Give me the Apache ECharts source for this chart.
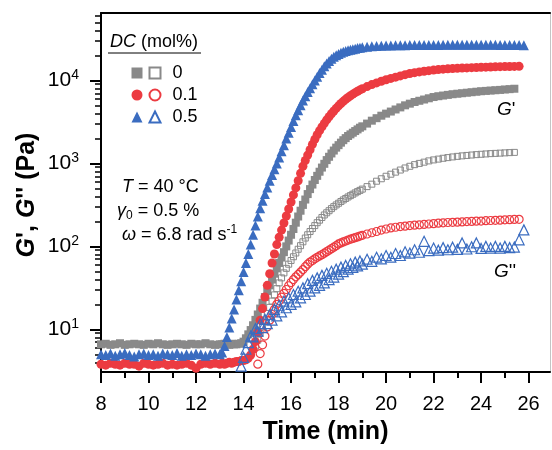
<!DOCTYPE html>
<html><head><meta charset="utf-8">
<script src="https://cdn.jsdelivr.net/npm/echarts@6/dist/echarts.min.js"></script>
<style>html,body{margin:0;padding:0;background:#fff}#c{width:552px;height:450px}</style>
</head><body><div id="c"></div>
<script>
// ---------------- data ----------------
const time = [
 8.0,8.2,8.4,8.6,8.8,9.0,9.2,9.4,9.6,9.8,10.0,10.2,10.4,10.6,10.8,11.0,11.2,11.4,11.6,11.8,12.0,12.2,12.4,12.6,12.8,13.0,
 13.1,13.2,13.3,13.4,13.5,13.6,13.7,13.8,13.9,14.0,
 14.1,14.2,14.3,14.4,14.5,14.6,14.7,14.8,14.9,15.0,
 15.1,15.2,15.3,15.4,15.5,15.6,15.7,15.8,15.9,16.0,
 16.1,16.2,16.3,16.4,16.5,16.6,16.7,16.8,16.9,17.0,
 17.1,17.2,17.3,17.4,17.5,17.6,17.7,17.8,17.9,18.0,
 18.1,18.2,18.3,18.4,18.5,18.6,18.7,18.8,18.9,19.0,
 19.2,19.4,19.6,19.8,20.0,20.2,20.4,20.6,20.8,21.0,21.2,21.4,21.6,21.8,22.0,22.2,22.4,22.6,22.8,23.0,
 23.2,23.4,23.6,23.8,24.0,24.2,24.4,24.6,24.8,25.0,25.2,25.4,25.6,25.8
];
// G' (storage modulus), DC = 0 mol%
const gStorage0 = [
 6.6,6.7,6.5,6.6,6.8,6.5,6.6,6.7,6.6,6.5,6.7,6.6,6.8,6.6,6.5,6.6,6.7,6.6,6.5,6.7,6.6,6.6,6.8,6.6,6.5,6.6,
 6.6,6.7,6.6,6.5,6.7,6.6,6.6,6.7,6.8,7.1,
 7.8,8.7,9.8,11.2,13.0,15.1,17.8,20.9,24.5,28.8,
 33.9,39.8,46.8,54.3,63.1,73.3,85.1,100,117.5,138,
 162,193,229,269,316,367,427,490,556,631,
 708,794,891,989,1096,1202,1318,1429,1549,1660,
 1778,1905,2018,2138,2239,2344,2455,2570,2692,2799,
 3020,3273,3508,3758,3981,4217,4467,4732,5012,5248,5495,5689,5888,6095,6310,6457,6577,6699,6823,6918,
 7015,7112,7211,7311,7413,7482,7551,7621,7691,7780,7852,7943,null,null
];
// G' , DC = 0.1 mol%
const gStorage01 = [
 3.8,3.7,3.9,3.8,3.7,3.9,3.8,3.8,3.6,3.9,3.8,3.7,3.8,3.9,3.7,3.8,3.7,3.8,3.9,3.7,3.4,3.8,3.9,3.8,3.9,3.8,
 3.9,3.8,3.9,4.0,3.9,4.0,4.1,4.1,4.2,4.2,
 4.3,4.5,4.9,5.75,7.1,9.3,12.9,17.8,24.5,33.9,
 46.8,63,81,105,129,157,191,232,282,343,
 417,507,617,759,923,1084,1259,1462,1698,1950,
 2213,2483,2754,3041,3342,3648,3963,4285,4613,4943,
 5272,5598,5916,6223,6531,6839,7129,7413,7691,7943,
 8433,8913,9333,9772,10190,10590,10960,11350,11750,12110,12420,12680,12910,13120,13340,13520,13680,13800,13900,14000,
 14090,14160,14260,14320,14390,14450,14520,14590,14660,14690,14720,14760,14790,null
];
// G' , DC = 0.5 mol%
const gStorage05 = [
 5.0,4.9,5.1,4.8,5.0,5.2,4.9,4.7,5.0,5.1,4.9,5.0,4.8,5.1,5.0,4.9,5.2,4.8,5.0,4.9,5.1,5.0,4.8,5.0,5.1,5.0,
 5.25,6.3,8.1,10.5,13.5,17.4,22.9,29.5,38,49,
 63,81,105,138,178,229,288,355,427,513,
 617,724,851,1000,1175,1400,1660,1995,2340,2750,
 3240,3800,4365,5010,5750,6460,7240,8035,9015,10000,
 11090,12300,13490,14790,16030,17180,18200,19280,20180,20890,
 21630,22130,22650,23070,23440,23820,24150,24550,24830,25120,
 25530,25820,26060,26240,26360,26420,26500,26550,26600,26650,26700,26730,26760,26790,26800,26820,26840,26850,26860,26870,
 26880,26880,26880,26880,26870,26860,26850,26840,26820,26800,26780,26750,26700,26600
];
// G'' (loss modulus), DC = 0 mol%
const gLoss0 = [
 null,null,null,null,null,null,null,null,null,null,null,null,null,null,null,null,null,null,null,null,null,null,null,null,null,null,
 null,null,null,null,null,null,null,null,null,null,
 null,null,null,null,6.3,7.4,8.9,10.7,12.9,15.5,
 18.4,21.9,26,30.9,36.3,41.7,47.9,54.3,61,67.6,
 75,83.2,92.3,102,113.5,126,138,151,164,178,
 193,207,223,239,254,269,285,301,316,331,
 347,363,378,394,409,425,441,457,473,490,
 525,562,610,653,700,741,785,832,881,923,966,1000,1035,1072,1102,1127,1153,1175,1197,1216,
 1233,1247,1262,1276,1288,1300,1312,1321,1330,1340,1349,1358,null,null
];
// G'' , DC = 0.1 mol%
const gLoss01 = [
 null,null,null,null,null,null,null,null,null,null,null,null,null,null,null,null,null,null,null,null,null,null,null,null,null,null,
 null,null,null,null,null,null,null,null,null,null,
 null,null,null,null,null,3.8,5.1,6.5,8.3,10.7,
 12.9,15.1,17.4,20,22.1,24.5,27.2,30.2,33.5,36.7,
 39.8,42.9,45.9,49,52.5,56.9,61,64.6,67.6,70.8,
 73.8,76.7,79.4,82.8,86.3,89.9,93.8,97.7,102,107,
 110,113,116,119,122,124.5,127.4,130,133,136,
 141,146,151,157,162,167,170,173,175,178,180,182,184,186,188,190.5,192,194,195,196,
 197,199,200,201,202,204,205,206,207,209,210,211,212,null
];
// G'' , DC = 0.5 mol%
const gLoss05 = [
 null,null,null,null,null,null,null,null,null,null,null,null,null,null,null,null,null,null,null,null,null,null,null,null,null,null,
 null,null,null,null,null,null,null,null,3.6,4.6,
 5.75,6.9,8.3,8.1,10.2,9.5,11.7,10.5,13.2,11.7,
 15.1,12.9,17.4,14.5,19.5,16.2,21.9,18.2,24,20,
 26.3,21.4,28.8,24,31.6,26.3,35.5,28.8,38.9,31.6,
 41.7,33.9,44.7,36.3,47.3,39.8,50.1,42.7,53.1,46.2,
 56.2,49.5,58.9,53.1,61.7,55.6,64.6,58.2,66.8,61,
 70,66,74,70.8,77.6,74,82,77.6,86,83,91,85,115,89,95.5,90,96.6,91,97.7,92,
 110,93,99,110,94.4,100,95.5,100,95.5,100,96.6,98,120,158
];
const dcLevels = ['0', '0.1', '0.5'];
const xTicks = [8,10,12,14,16,18,20,22,24,26];
const xMinorTicks = [9,11,13,15,17,19,21,23,25];
const yTicks = [10,100,1000,10000];
const yMinorTicks = [4,5,6,7,8,9,20,30,40,50,60,70,80,90,200,300,400,500,600,700,800,900,
  2000,3000,4000,5000,6000,7000,8000,9000,20000,30000,40000,50000,60000];

// ---------------- chart ----------------
const FONT = '"Liberation Sans", Arial, Helvetica, sans-serif';
const GREY = '#898989', RED = '#ec3b41', BLUE = '#3a6cc0';
const X_MIN = 8, X_MAX = 26.9, Y_MIN = 3.06, Y_MAX = 65000;

function pairs(vals) {
  const out = [];
  time.forEach((t, i) => { if (vals[i] != null) out.push([t, vals[i]]); });
  return out;
}
const CLEAR = 'rgba(255,255,255,0)';
function filled(name, vals, symbol, size, color) {
  return { type: 'scatter', name, data: pairs(vals), symbol, symbolSize: size,
    itemStyle: { color, opacity: 1 }, silent: true, emphasis: { disabled: true } };
}
function open(name, vals, symbol, size, color, bw) {
  return { type: 'scatter', name, data: pairs(vals), symbol, symbolSize: size,
    itemStyle: { color: CLEAR, borderColor: color, borderWidth: bw, opacity: 1 },
    silent: true, emphasis: { disabled: true } };
}
const storageNames = dcLevels.map(d => "G' " + d);

const chart = echarts.init(document.getElementById('c'), null, { renderer: 'canvas' });
chart.setOption({
  animation: false,
  backgroundColor: '#fff',
  grid: { left: 101, right: 2, top: 13, bottom: 75 },
  xAxis: [
    { type: 'value', position: 'bottom', min: X_MIN, max: X_MAX,
      axisLine: { show: true, onZero: false, lineStyle: { color: '#000', width: 2 } },
      axisTick: { show: true, inside: false, length: 11, customValues: xTicks, lineStyle: { color: '#000', width: 2 } },
      axisLabel: { show: true, customValues: xTicks, margin: 22, fontSize: 20, color: '#000', fontFamily: FONT },
      splitLine: { show: false },
      name: 'Time (min)', nameLocation: 'middle', nameGap: 48,
      nameTextStyle: { fontSize: 25, fontWeight: 'bold', color: '#000', fontFamily: FONT } },
    { type: 'value', position: 'top', min: X_MIN, max: X_MAX,
      axisLine: { show: true, onZero: false, lineStyle: { color: '#000', width: 2 } },
      axisTick: { show: false }, axisLabel: { show: false }, splitLine: { show: false } },
    { type: 'value', position: 'bottom', min: X_MIN, max: X_MAX,
      axisLine: { show: false, onZero: false },
      axisTick: { show: true, inside: false, length: 6, customValues: xMinorTicks, lineStyle: { color: '#000', width: 2 } },
      axisLabel: { show: false }, splitLine: { show: false } }
  ],
  yAxis: [
    { type: 'log', logBase: 10, position: 'left', min: Y_MIN, max: Y_MAX,
      axisLine: { show: true, onZero: false, lineStyle: { color: '#000', width: 2 } },
      axisTick: { show: true, inside: false, length: 11, customValues: yTicks, lineStyle: { color: '#000', width: 2 } },
      axisLabel: { show: true, customValues: yTicks, margin: 22, color: '#000',
        formatter: v => '{b|10}{s|' + Math.round(Math.log10(v)) + '}',
        rich: { b: { fontSize: 21, fontFamily: FONT, color: '#000', lineHeight: 24 },
                s: { fontSize: 14, fontFamily: FONT, color: '#000', lineHeight: 12, verticalAlign: 'top' } } },
      splitLine: { show: false } },
    { type: 'log', logBase: 10, position: 'left', min: Y_MIN, max: Y_MAX,
      axisLine: { show: false, onZero: false },
      axisTick: { show: true, inside: false, length: 6, customValues: yMinorTicks, lineStyle: { color: '#000', width: 1.5 } },
      axisLabel: { show: false }, splitLine: { show: false } },
    { type: 'log', logBase: 10, position: 'right', min: Y_MIN, max: Y_MAX,
      axisLine: { show: true, onZero: false, lineStyle: { color: '#c4c4c4', width: 1 } },
      axisTick: { show: false }, axisLabel: { show: false }, splitLine: { show: false } }
  ],
  legend: [
    { data: storageNames, orient: 'vertical', left: 131.5, top: 64, padding: 0,
      itemWidth: 11, itemHeight: 11, itemGap: 4, selectedMode: false,
      formatter: () => ' ', textStyle: { fontSize: 18, fontFamily: FONT, color: '#000' } },
    { data: dcLevels, orient: 'vertical', left: 148.5, top: 64, padding: 0,
      itemWidth: 11, itemHeight: 11, itemGap: 4, selectedMode: false,
      textStyle: { fontSize: 18, fontFamily: FONT, color: '#000', padding: [0, 0, 0, 7] } }
  ],
  graphic: [
    { type: 'text', x: 110, y: 42, silent: true,
      style: { text: '{i|DC} (mol%)', verticalAlign: 'middle', fontSize: 18, fontFamily: FONT, fill: '#000',
        rich: { i: { fontStyle: 'italic', fontSize: 18, fontFamily: FONT, fill: '#000' } } } },
    { type: 'line', silent: true, shape: { x1: 108, y1: 53, x2: 201, y2: 53 }, style: { stroke: '#000', lineWidth: 1 } },
    { type: 'text', x: 122, y: 187, silent: true,
      style: { text: '{i|T} = 40 °C', verticalAlign: 'middle', fontSize: 18, fontFamily: FONT, fill: '#000',
        rich: { i: { fontStyle: 'italic', fontSize: 18, fontFamily: FONT } } } },
    { type: 'text', x: 117, y: 211, silent: true,
      style: { text: '{i|γ}{sub|0} = 0.5 %', verticalAlign: 'middle', fontSize: 18, fontFamily: FONT, fill: '#000',
        rich: { i: { fontStyle: 'italic', fontSize: 18, fontFamily: FONT, lineHeight: 22 },
                sub: { fontSize: 12, fontFamily: FONT, lineHeight: 12, verticalAlign: 'bottom' } } } },
    { type: 'text', x: 122, y: 235, silent: true,
      style: { text: '{i|ω} = 6.8 rad s{sup|-1}', verticalAlign: 'middle', fontSize: 18, fontFamily: FONT, fill: '#000',
        rich: { i: { fontStyle: 'italic', fontSize: 18, fontFamily: FONT, lineHeight: 22 },
                sup: { fontSize: 12, fontFamily: FONT, lineHeight: 12, verticalAlign: 'top' } } } },
    { type: 'text', x: 497, y: 110, silent: true,
      style: { text: "{i|G}'", verticalAlign: 'middle', fontSize: 19, fontFamily: FONT, fill: '#000',
        rich: { i: { fontStyle: 'italic', fontSize: 19, fontFamily: FONT } } } },
    { type: 'text', x: 494, y: 272, silent: true,
      style: { text: "{i|G}''", verticalAlign: 'middle', fontSize: 19, fontFamily: FONT, fill: '#000',
        rich: { i: { fontStyle: 'italic', fontSize: 19, fontFamily: FONT } } } },
    { type: 'text', x: 27, y: 195, rotation: Math.PI / 2, silent: true,
      style: { text: "{i|G}', {i|G}'' (Pa)", align: 'center', verticalAlign: 'middle',
        fontSize: 25, fontWeight: 'bold', fontFamily: FONT, fill: '#000',
        rich: { i: { fontStyle: 'italic', fontWeight: 'bold', fontSize: 25, fontFamily: FONT } } } }
  ],
  series: [
    filled(storageNames[0], gStorage0, 'rect', 8, GREY),
    open(dcLevels[0], gLoss0, 'rect', 6, GREY, 1),
    filled(storageNames[1], gStorage01, 'circle', 9, RED),
    open(dcLevels[1], gLoss01, 'circle', 8, RED, 1.2),
    filled(storageNames[2], gStorage05, 'triangle', 10, BLUE),
    open(dcLevels[2], gLoss05, 'triangle', 10, BLUE, 1.2)
  ]
});
</script>
</body></html>
